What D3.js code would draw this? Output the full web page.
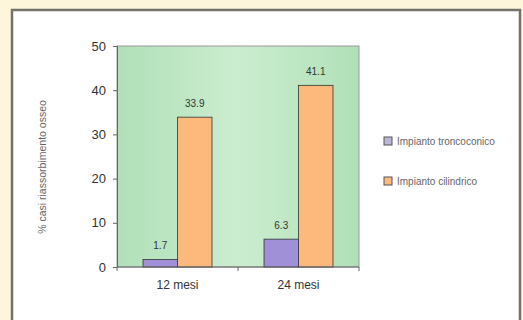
<!DOCTYPE html>
<html><head><meta charset="utf-8">
<script src="https://cdn.jsdelivr.net/npm/d3@7"></script>
<style>body{margin:0;background:#fdf6da;}svg{display:block;}</style>
</head><body>
<script>
const categories = ["12 mesi", "24 mesi"];
const seriesNames = ["Impianto troncoconico", "Impianto cilindrico"];
const troncoconico = [1.7, 6.3];
const cilindrico = [33.9, 41.1];
const yTicks = [0, 10, 20, 30, 40, 50];
const valueLabels = [["1.7", "6.3"], ["33.9", "41.1"]];
const colors = ["#9f90d8", "#fdb87c"];

const W = 523, H = 320;
const svg = d3.select("body").append("svg").attr("width", W).attr("height", H);
const defs = svg.append("defs");
const pg = defs.append("linearGradient").attr("id", "pg");
pg.append("stop").attr("offset", "0%").attr("stop-color", "#b0e0b8");
pg.append("stop").attr("offset", "50%").attr("stop-color", "#cbedcf");
pg.append("stop").attr("offset", "100%").attr("stop-color", "#b0e0b8");

svg.append("rect").attr("width", W).attr("height", H).attr("fill", "#fdf6da");
svg.append("rect").attr("x", 12).attr("y", 10).attr("width", 508).attr("height", 320)
  .attr("fill", "#fff").attr("stroke", "#75726b").attr("stroke-width", 2.5);

const L = 117, R = 359, T = 46, B = 267;
const x = d3.scaleBand().domain(categories).range([L, R]).paddingInner(0.43).paddingOuter(0.215);
const xs = d3.scaleBand().domain([0, 1]).range([0, x.bandwidth()]);
const y = d3.scaleLinear().domain([0, 50]).range([B, T]);

svg.append("rect").attr("x", L).attr("y", T).attr("width", R - L).attr("height", B - T)
  .attr("fill", "url(#pg)").attr("stroke", "#999").attr("stroke-width", 1);

const data = [troncoconico, cilindrico];
data.forEach((vals, s) => {
  svg.append("g").selectAll("rect").data(vals).join("rect")
    .attr("x", (d, i) => x(categories[i]) + xs(s))
    .attr("y", d => y(d))
    .attr("width", xs.bandwidth())
    .attr("height", d => B - y(d))
    .attr("fill", colors[s]).attr("stroke", "#333").attr("stroke-width", 0.8);
  svg.append("g").selectAll("text").data(vals).join("text")
    .attr("x", (d, i) => x(categories[i]) + xs(s) + xs.bandwidth() / 2)
    .attr("y", d => y(d) - 10)
    .attr("text-anchor", "middle")
    .attr("font-family", "Liberation Sans, Arial, sans-serif")
    .attr("font-size", 10).attr("fill", "#333")
    .text((d, i) => valueLabels[s][i]);
});

// y axis
const yAxis = d3.axisLeft(y).tickValues(yTicks).tickSize(4).tickPadding(7);
const ga = svg.append("g").attr("transform", `translate(${L},0)`).call(yAxis);
ga.select(".domain").attr("stroke", "#666");
ga.selectAll(".tick line").attr("stroke", "#666");
ga.selectAll("text").attr("font-family", "Liberation Sans, Arial, sans-serif")
  .attr("font-size", 13).attr("fill", "#333");

// x axis
const gx = svg.append("g").attr("transform", `translate(0,${B})`);
gx.append("line").attr("x1", L).attr("x2", R).attr("stroke", "#666");
const bounds = [L, (x(categories[0]) + x.bandwidth() + x(categories[1])) / 2, R];
gx.selectAll("line.t").data(bounds).join("line").attr("class", "t")
  .attr("x1", d => d).attr("x2", d => d).attr("y1", 0).attr("y2", 4).attr("stroke", "#666");
gx.selectAll("text").data(categories).join("text")
  .attr("x", d => x(d) + x.bandwidth() / 2).attr("y", 22)
  .attr("text-anchor", "middle")
  .attr("font-family", "Liberation Sans, Arial, sans-serif")
  .attr("font-size", 12).attr("fill", "#333").text(d => d);

// y label
svg.append("text").attr("transform", `translate(46,167) rotate(-90)`)
  .attr("text-anchor", "middle")
  .attr("font-family", "Liberation Sans, Arial, sans-serif")
  .attr("font-size", 10.5).attr("fill", "#666")
  .text("% casi riassorbimento osseo");

// legend
const lg = svg.append("g");
[141, 181].forEach((cy, i) => {
  lg.append("rect").attr("x", 384).attr("y", cy - 4).attr("width", 8).attr("height", 8)
    .attr("fill", i === 0 ? "#bab6d6" : colors[1]).attr("stroke", "#555").attr("stroke-width", 1);
  lg.append("text").attr("x", 397).attr("y", cy + 3.5)
    .attr("font-family", "Liberation Sans, Arial, sans-serif")
    .attr("font-size", 10).attr("fill", "#666").text(seriesNames[i]);
});
</script>
</body></html>
